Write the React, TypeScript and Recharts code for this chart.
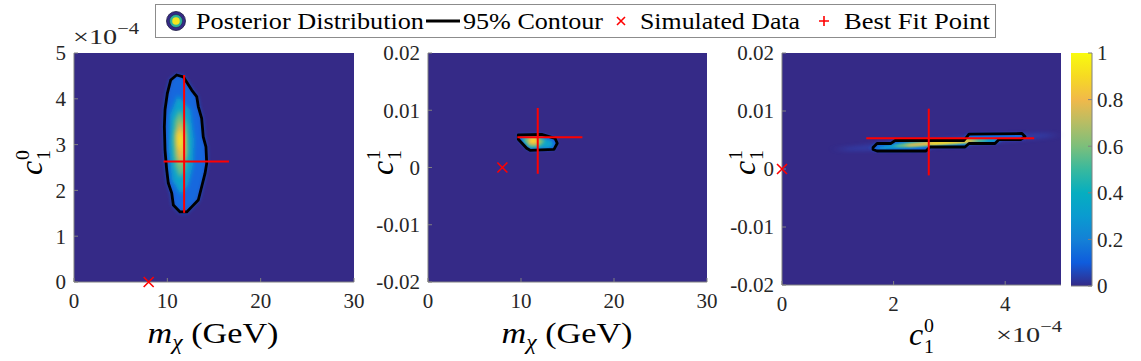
import React from 'react';
import { ScatterChart, Scatter, XAxis, YAxis, CartesianGrid } from 'recharts';

const FONT = 'Liberation Serif, DejaVu Serif, serif';
const AX = '#808080';
const TXT = '#262626';
const NAVY = '#352a87';
const RED = '#ff0000';

const massTicks = [0, 10, 20, 30];
const c10Ticks = [0, 1, 2, 3, 4, 5];
const c10TicksSparse = [0, 2, 4];
const c11Ticks = [-0.02, -0.01, 0, 0.01, 0.02];
const cbarTicks = [0, 0.2, 0.4, 0.6, 0.8, 1];

// [m_chi, c1^0 (x1e-4), c1^1]
const simulatedPoint = [8, 0, 0];
const bestFitCentre = [11.8, 2.63, 0.0053];
const bestFitLow = [9.6, 1.51, -0.0011];
const bestFitHigh = [16.6, 4.52, 0.0104];

const parulaStops: [number, string][] = [
  [0, '#352a87'], [0.1, '#0f5cdd'], [0.2, '#1481d6'], [0.3, '#0a9bd0'], [0.4, '#06aec0'],
  [0.5, '#38b99e'], [0.6, '#7cbf7b'], [0.7, '#b7bd64'], [0.8, '#f1b94a'], [0.9, '#f6da23'], [1, '#f9fb0e'],
];
const levelColors = ['#1468de', '#0aa3cb', '#6fbe80', '#f0b94a', '#f7e324'];

const contour1 = [[11.0, 4.52], [11.71, 4.48], [12.61, 4.19], [13.15, 4.05], [13.32, 3.83], [13.68, 3.57], [13.85, 3.17], [14.14, 2.95], [14.22, 2.59], [14.04, 2.37], [13.68, 2.08], [13.32, 1.79], [12.61, 1.64], [12.08, 1.53], [11.36, 1.53], [10.64, 1.68], [10.47, 1.94], [10.10, 2.16], [9.93, 2.45], [9.75, 2.88], [9.68, 3.39], [9.75, 3.76], [10.0, 4.12], [10.36, 4.41]];
const p1Level1 = [[11.14, 4.08], [12.43, 3.76], [12.86, 3.10], [12.75, 2.55], [12.21, 2.12], [11.46, 1.90], [10.50, 2.23], [10.18, 2.88], [10.29, 3.65]];
const p1Level2 = [[11.36, 3.76], [12.11, 3.43], [12.21, 2.88], [11.89, 2.45], [11.36, 2.27], [10.82, 2.55], [10.61, 3.10], [10.82, 3.54]];
const p1Level3 = [[11.36, 3.54], [11.89, 3.21], [11.89, 2.77], [11.46, 2.55], [11.04, 2.77], [10.93, 3.21]];
const p1Level4 = [[11.36, 3.32], [11.68, 3.10], [11.46, 2.84], [11.14, 2.99], [11.14, 3.21]];

const contour2 = [[9.71, 0.00568], [12.23, 0.0058], [13.66, 0.0051], [13.90, 0.00423], [13.55, 0.00318], [10.97, 0.0030], [10.61, 0.00335], [9.71, 0.00493]];
const p2Level1 = [[10.0, 0.00533], [12.04, 0.00533], [13.33, 0.00463], [13.44, 0.00376], [12.9, 0.0034], [10.97, 0.0034], [10.32, 0.00428]];
const p2Level2 = [[10.32, 0.00524], [11.83, 0.00533], [12.58, 0.00463], [12.04, 0.00376], [10.97, 0.00358], [10.43, 0.00445]];
const p2Level3 = [[10.75, 0.00515], [11.72, 0.00515], [12.04, 0.00445], [11.51, 0.00393], [10.86, 0.0041]];
const p2Level4 = [[11.08, 0.00498], [11.61, 0.00489], [11.51, 0.00445], [11.08, 0.00445]];

const contour3 = [[1.631, 0.00371], [1.703, 0.0044], [1.953, 0.0044], [2.025, 0.00491], [3.262, 0.00491], [3.351, 0.00603], [4.301, 0.00612], [4.355, 0.0056], [4.283, 0.00509], [3.889, 0.00509], [3.817, 0.0044], [3.351, 0.0044], [3.28, 0.00379], [2.652, 0.00379], [2.581, 0.0031], [1.703, 0.0031], [1.631, 0.00336]];
const p3Halo = [[1.039, 0.00362], [2.115, 0.00474], [3.907, 0.00595], [4.839, 0.00621], [4.839, 0.00552], [3.907, 0.00466], [2.115, 0.00328], [1.075, 0.0031]];
const p3Level1 = [[1.72, 0.00371], [2.115, 0.00448], [3.19, 0.00517], [3.817, 0.00526], [3.907, 0.005], [3.817, 0.00466], [3.19, 0.00422], [2.115, 0.00362], [1.756, 0.00345]];
const p3Level2 = [[2.025, 0.00405], [2.294, 0.00457], [3.19, 0.00509], [3.638, 0.00509], [3.674, 0.00483], [3.19, 0.0044], [2.294, 0.00379], [2.061, 0.00379]];
const p3Level3 = [[2.204, 0.00414], [2.652, 0.00474], [3.369, 0.00509], [3.513, 0.00491], [3.369, 0.00457], [2.652, 0.00414], [2.258, 0.00388]];
const p3Level4 = [[2.616, 0.00448], [2.921, 0.00483], [3.333, 0.00497], [3.369, 0.00479], [3.011, 0.00448], [2.688, 0.00422]];

const toXY = (arr: number[][]) => arr.map(([x, y]) => ({ x, y }));
const noShape = () => <g />;
const noTick = () => <g />;

const pathLine = (fill: string, stroke: string, sw: number, filter?: string, close = true, opacity = 1) => (lp: any) => {
  const pts = (lp && lp.points) || [];
  const d = pts.map((p: any, i: number) => `${i ? 'L' : 'M'}${p.x},${p.y}`).join(' ') + (close ? ' Z' : '');
  return <path d={d} fill={fill} stroke={stroke} strokeWidth={sw} strokeLinejoin="round" filter={filter} opacity={opacity} />;
};

const crossShape = (props: any) => {
  const { cx, cy } = props;
  const s = 5;
  return <path d={`M${cx - s},${cy - s}L${cx + s},${cy + s}M${cx + s},${cy - s}L${cx - s},${cy + s}`} stroke={RED} strokeWidth={1.6} fill="none" />;
};

const tickStyle = { fontFamily: FONT, fontSize: 21, fill: TXT };

type PanelCfg = {
  left: number; width: number; yAxisWidth: number; marginRight: number; xAxisHeight: number;
  xDomain: [number, number]; yDomain: [number, number]; xTicks: number[]; yTicks: number[];
  xIdx: number; yIdx: number; halo?: number[][]; haloFilter?: string;
  contour: number[][]; levels: number[][][]; levelFilter: string;
};

const panels: PanelCfg[] = [
  { left: 0, width: 370, yAxisWidth: 74, marginRight: 16, xAxisHeight: 79,
    xDomain: [0, 30], yDomain: [0, 5], xTicks: massTicks, yTicks: c10Ticks, xIdx: 0, yIdx: 1,
    contour: contour1, levels: [p1Level1, p1Level2, p1Level3, p1Level4], levelFilter: 'url(#blur2)' },
  { left: 360, width: 370, yAxisWidth: 68, marginRight: 23, xAxisHeight: 79,
    xDomain: [0, 30], yDomain: [-0.02, 0.02], xTicks: massTicks, yTicks: c11Ticks, xIdx: 0, yIdx: 2,
    contour: contour2, levels: [p2Level1, p2Level2, p2Level3, p2Level4], levelFilter: 'url(#blur13)' },
  { left: 720, width: 350, yAxisWidth: 62, marginRight: 9, xAxisHeight: 76,
    xDomain: [0, 5], yDomain: [-0.02, 0.02], xTicks: c10TicksSparse, yTicks: c11Ticks, xIdx: 1, yIdx: 2,
    halo: p3Halo, haloFilter: 'url(#blurHalo)',
    contour: contour3, levels: [p3Level1, p3Level2, p3Level3, p3Level4], levelFilter: 'url(#blurThin)' },
];

function Panel({ cfg }: { cfg: PanelCfg }) {
  const { xIdx, yIdx } = cfg;
  const hSeg = [{ x: bestFitLow[xIdx], y: bestFitCentre[yIdx] }, { x: bestFitHigh[xIdx], y: bestFitCentre[yIdx] }];
  const vSeg = [{ x: bestFitCentre[xIdx], y: bestFitLow[yIdx] }, { x: bestFitCentre[xIdx], y: bestFitHigh[yIdx] }];
  const sim = [{ x: simulatedPoint[xIdx], y: simulatedPoint[yIdx] }];
  return (
    <div style={{ position: 'absolute', left: cfg.left, top: 0 }}>
      <ScatterChart width={cfg.width} height={361} margin={{ top: 53, right: cfg.marginRight, bottom: 0, left: 0 }}>
        <CartesianGrid horizontal={false} vertical={false} fill={NAVY} fillOpacity={1} stroke="none" />
        <XAxis type="number" dataKey="x" domain={cfg.xDomain} ticks={cfg.xTicks} interval={0}
          height={cfg.xAxisHeight} tickSize={-4} tickMargin={15}
          axisLine={{ stroke: AX }} tickLine={{ stroke: AX }} tick={tickStyle} />
        <XAxis xAxisId="top" orientation="top" type="number" domain={cfg.xDomain} ticks={cfg.xTicks} interval={0}
          height={0} tickSize={-4} axisLine={{ stroke: AX }} tickLine={{ stroke: AX }} tick={noTick} />
        <YAxis type="number" dataKey="y" domain={cfg.yDomain} ticks={cfg.yTicks} interval={0}
          width={cfg.yAxisWidth} tickSize={-4} tickMargin={12}
          axisLine={{ stroke: AX }} tickLine={{ stroke: AX }} tick={tickStyle} />
        <YAxis yAxisId="right" orientation="right" type="number" domain={cfg.yDomain} ticks={cfg.yTicks} interval={0}
          width={0} tickSize={-4} axisLine={{ stroke: AX }} tickLine={{ stroke: AX }} tick={noTick} />
        {cfg.halo ? (
          <Scatter data={toXY(cfg.halo)} shape={noShape} lineType="joint" isAnimationActive={false}
            line={pathLine('#2f55cc', 'none', 0, cfg.haloFilter, true, 0.45)} />
        ) : null}
        <Scatter data={toXY(cfg.contour)} shape={noShape} lineType="joint" isAnimationActive={false}
          line={pathLine(levelColors[0], levelColors[0], 1, cfg.levelFilter)} />
        {cfg.levels.map((lv, i) => (
          <Scatter key={`lv${i}`} data={toXY(lv)} shape={noShape} lineType="joint" isAnimationActive={false}
            line={pathLine(levelColors[i + 1], 'none', 0, cfg.levelFilter)} />
        ))}
        <Scatter data={toXY(cfg.contour)} shape={noShape} lineType="joint" isAnimationActive={false}
          line={pathLine('none', '#000000', 2.8)} />
        <Scatter data={hSeg} shape={noShape} lineType="joint" isAnimationActive={false}
          line={pathLine('none', RED, 2, undefined, false)} />
        <Scatter data={vSeg} shape={noShape} lineType="joint" isAnimationActive={false}
          line={pathLine('none', RED, 2, undefined, false)} />
        <Scatter data={sim} shape={crossShape} isAnimationActive={false} />
      </ScatterChart>
    </div>
  );
}

function ColorBar() {
  return (
    <div style={{ position: 'absolute', left: 1062, top: 0 }}>
      <ScatterChart width={79} height={361} margin={{ top: 53, right: 0, bottom: 0, left: 9 }}>
        <CartesianGrid horizontal={false} vertical={false} fill="url(#parulaGrad)" fillOpacity={1} stroke="none" />
        <XAxis type="number" dataKey="x" domain={[0, 1]} height={75} tick={false} tickLine={false} axisLine={{ stroke: AX }} />
        <XAxis xAxisId="top" orientation="top" type="number" domain={[0, 1]} height={0} tick={false} tickLine={false} axisLine={{ stroke: AX }} />
        <YAxis yAxisId="left" orientation="left" type="number" domain={[0, 1]} width={0} tick={false} tickLine={false} axisLine={{ stroke: AX }} />
        <YAxis type="number" dataKey="y" orientation="right" domain={[0, 1]} ticks={cbarTicks} interval={0}
          width={49} tickSize={-4} tickMargin={9}
          axisLine={{ stroke: AX }} tickLine={{ stroke: AX }} tick={tickStyle} />
        <Scatter data={[{ x: 0.5, y: 0.5 }]} shape={noShape} isAnimationActive={false} />
      </ScatterChart>
    </div>
  );
}

function CLabel({ cx, cy, sup, sub, rotate, size = 32 }: { cx: number; cy: number; sup: string; sub: string; rotate?: boolean; size?: number }) {
  const cw = size * 0.44;
  const ss = size * 0.62;
  const total = cw + ss * 0.5;
  const x0 = -total / 2;
  const base = size * 0.28;
  return (
    <g transform={`translate(${cx},${cy})${rotate ? ' rotate(-90)' : ''}`} fontFamily={FONT} fill="#000">
      <text x={x0} y={base}>
        <tspan fontSize={size} fontStyle="italic">c</tspan>
        <tspan fontSize={ss} x={x0 + cw + 1} dy={-size * 0.42}>{sup}</tspan>
        <tspan fontSize={ss} x={x0 + cw + 1} dy={size * 0.68}>{sub}</tspan>
      </text>
    </g>
  );
}

function MassLabel({ cx, y }: { cx: number; y: number }) {
  return (
    <text x={cx} y={y} textAnchor="middle" fontFamily={FONT} fontSize={29} fill="#000" textLength={131} lengthAdjust="spacingAndGlyphs">
      <tspan fontStyle="italic">m</tspan>
      <tspan fontStyle="italic" fontSize={20} dy={6}>χ</tspan>
      <tspan dy={-6}> (GeV)</tspan>
    </text>
  );
}

function Exponent({ x, y }: { x: number; y: number }) {
  return (
    <text x={x} y={y} fontFamily={FONT} fontSize={22} fill={TXT} textLength={66} lengthAdjust="spacingAndGlyphs">
      ×10<tspan fontSize={16} dy={-10}>−4</tspan>
    </text>
  );
}

function Overlay() {
  const ly = 21;
  return (
    <svg width={1141} height={361} style={{ position: 'absolute', left: 0, top: 0, pointerEvents: 'none' }}>
      <rect x={155.5} y={4.5} width={840} height={33} fill="#ffffff" stroke="#8c8c8c" strokeWidth={1} />
      <circle cx={176} cy={ly} r={9.5} fill={NAVY} stroke="#1a1a40" strokeWidth={0.8} />
      <circle cx={176} cy={ly} r={6.5} fill="#2fb39b" stroke="#1a1a40" strokeWidth={0.5} />
      <circle cx={176} cy={ly} r={3.8} fill="#f4e61e" />
      <g fontFamily={FONT} fontSize={23} fill="#000">
        <text x={196} y={29} textLength={228} lengthAdjust="spacingAndGlyphs">Posterior Distribution</text>
        <text x={463} y={29} textLength={140} lengthAdjust="spacingAndGlyphs">95% Contour</text>
        <text x={640} y={29} textLength={160} lengthAdjust="spacingAndGlyphs">Simulated Data</text>
        <text x={844} y={29} textLength={146} lengthAdjust="spacingAndGlyphs">Best Fit Point</text>
      </g>
      <line x1={426} x2={460} y1={ly} y2={ly} stroke="#000" strokeWidth={3} />
      <path d={`M617,${ly - 4}L625,${ly + 4}M625,${ly - 4}L617,${ly + 4}`} stroke={RED} strokeWidth={1.6} />
      <path d={`M824,${ly - 5}L824,${ly + 5}M819,${ly}L829,${ly}`} stroke={RED} strokeWidth={1.6} />

      <Exponent x={73} y={44} />
      <Exponent x={996} y={342} />
      <MassLabel cx={213} y={343} />
      <MassLabel cx={567} y={343} />
      <CLabel cx={33} cy={163} sup="0" sub="1" rotate />
      <CLabel cx={384} cy={163} sup="1" sub="1" rotate />
      <CLabel cx={746} cy={163} sup="1" sub="1" rotate />
      <CLabel cx={921} cy={336} sup="0" sub="1" />
    </svg>
  );
}

export default function App() {
  return (
    <div style={{ position: 'absolute', left: 0, top: 0, width: 1141, height: 361, background: '#ffffff', overflow: 'hidden' }}>
      <svg width={0} height={0} style={{ position: 'absolute' }}>
        <defs>
          <linearGradient id="parulaGrad" x1="0" y1="1" x2="0" y2="0">
            {parulaStops.map(([o, c]) => <stop key={o} offset={o} stopColor={c} />)}
          </linearGradient>
          <filter id="blur2" x="-60%" y="-60%" width="220%" height="220%"><feGaussianBlur stdDeviation="2.2" /></filter>
          <filter id="blur13" x="-60%" y="-100%" width="220%" height="300%"><feGaussianBlur stdDeviation="1.4" /></filter>
          <filter id="blurThin" x="-50%" y="-300%" width="200%" height="700%"><feGaussianBlur stdDeviation="2.5 0.9" /></filter>
          <filter id="blurHalo" x="-50%" y="-300%" width="200%" height="700%"><feGaussianBlur stdDeviation="7 2" /></filter>
        </defs>
      </svg>
      {panels.map((p, i) => <Panel key={i} cfg={p} />)}
      <ColorBar />
      <Overlay />
    </div>
  );
}
